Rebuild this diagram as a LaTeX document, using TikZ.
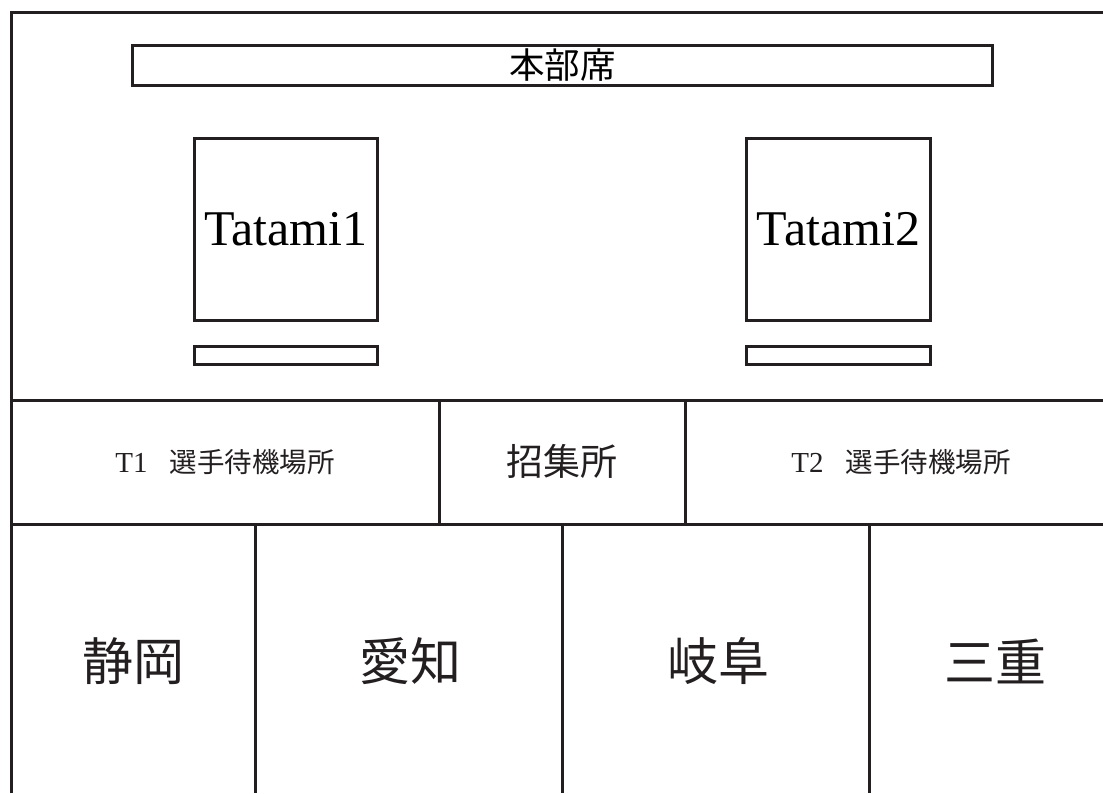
\documentclass[tikz,border=0pt]{standalone}
\usepackage{fontspec}
\setmainfont{Liberation Serif}
\newfontfamily\jp{Noto Sans CJK JP}
\definecolor{ink}{RGB}{35,31,32}
\begin{document}
\begin{tikzpicture}[x=1pt,y=-1pt,
  wall/.style={draw=ink,line width=3pt},
  box/.style={draw=ink,line width=3pt,rectangle,inner sep=0pt,outer sep=0pt},
  lbl/.style={text=ink,inner sep=0pt},
  waitlbl/.style={lbl,font=\fontsize{29}{34}\selectfont}]
\useasboundingbox (0,0) rectangle (1103,793);
% outer frame (cropped on right and bottom)
\coordinate (ob) at (11,793);
\coordinate (otr) at (1103,12.5);
\draw[wall] (ob) |- (otr);
% HQ table
\node[box,minimum width=859.5pt,minimum height=40pt,font=\jp\fontsize{35.5}{40}\selectfont] (hq) at (562.25,65) {本部席};
% tatami
\node[box,minimum width=183.5pt,minimum height=182pt,font=\fontsize{50}{56}\selectfont] (tat1) at (286,229) {Tatami1};
\node[box,minimum width=183.5pt,minimum height=182pt,font=\fontsize{50}{56}\selectfont] (tat2) at (838.5,229) {Tatami2};
\node[box,minimum width=183.5pt,minimum height=18pt] (desk1) at (286,355.5) {};
\node[box,minimum width=183.5pt,minimum height=18pt] (desk2) at (838.5,355.5) {};
% horizontal separators
\coordinate (h1l) at (11,400); \coordinate (h1r) at (1103,400);
\coordinate (h2l) at (11,524.5); \coordinate (h2r) at (1103,524.5);
\draw[wall] (h1l) -- (h1r);
\draw[wall] (h2l) -- (h2r);
% middle row verticals
\coordinate (m1t) at (439.5,400); \coordinate (m1b) at (439.5,524.5);
\coordinate (m2t) at (685,400); \coordinate (m2b) at (685,524.5);
\draw[wall] (m1t) -- (m1b);
\draw[wall] (m2t) -- (m2b);
% bottom row verticals
\coordinate (b1t) at (255.5,524.5); \coordinate (b1b) at (255.5,793);
\coordinate (b2t) at (562,524.5); \coordinate (b2b) at (562,793);
\coordinate (b3t) at (869,524.5); \coordinate (b3b) at (869,793);
\draw[wall] (b1t) -- (b1b);
\draw[wall] (b2t) -- (b2b);
\draw[wall] (b3t) -- (b3b);
% labels
\node[waitlbl] (w1) at (225,462) {T1\hspace{22pt}{\jp\fontsize{27.5}{32}\selectfont 選手待機場所}};
\node[lbl,font=\jp\fontsize{37}{42}\selectfont] (call) at (562,461) {招集所};
\node[waitlbl] (w2) at (901,462) {T2\hspace{22pt}{\jp\fontsize{27.5}{32}\selectfont 選手待機場所}};
\node[lbl,font=\jp\fontsize{51}{60}\selectfont] (p1) at (133,661) {静岡};
\node[lbl,font=\jp\fontsize{51}{60}\selectfont] (p2) at (410,661) {愛知};
\node[lbl,font=\jp\fontsize{51}{60}\selectfont] (p3) at (718,661) {岐阜};
\node[lbl,font=\jp\fontsize{51}{60}\selectfont] (p4) at (995,661) {三重};
\end{tikzpicture}
\end{document}
